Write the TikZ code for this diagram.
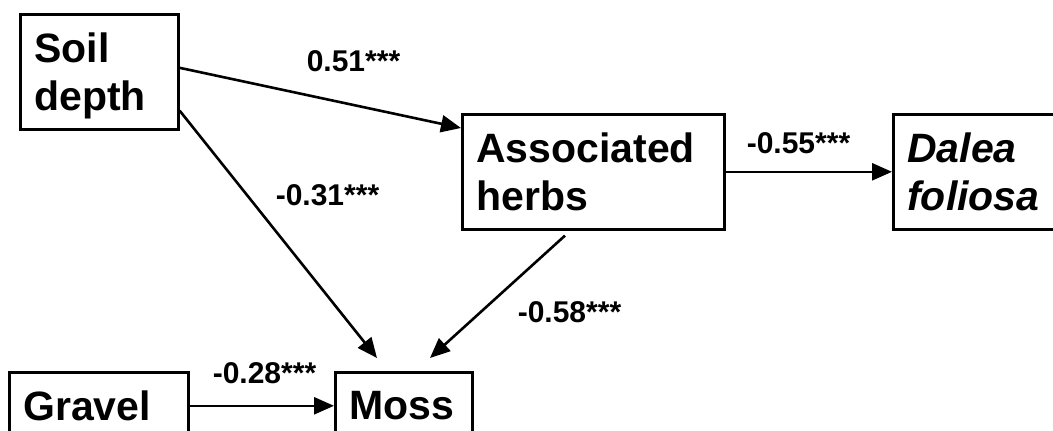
\documentclass[tikz,border=0pt]{standalone}
\usepackage{fontspec}
\setmainfont{Liberation Sans}
\usetikzlibrary{arrows.meta,positioning,calc}

\begin{document}
\begin{tikzpicture}[x=1pt,y=-1pt,>={Triangle[length=20pt,width=17pt]},line width=2.6pt,
  box/.style={draw,anchor=north west,inner xsep=14pt,inner ysep=0pt,align=left,
    font=\fontsize{41}{48}\selectfont\bfseries},
  lbl/.style={anchor=base,inner sep=0pt,font=\fontsize{30}{36}\selectfont\bfseries}]
\useasboundingbox (0,0) rectangle (1053,431);
\clip (0,0) rectangle (1053,431);
\node[box,text width=130pt,minimum height=115pt] (soil) at (19,13) {Soil\\\smash{depth}};
\node[box,text width=234pt,minimum height=115pt] (herbs) at (461,113) {Associated\\herbs};
\node[box,text width=152pt,minimum height=115pt] (dalea) at (892,113) {\itshape Dalea\\\itshape foliosa};
\node[box,text width=151pt,minimum height=67pt] (gravel) at (8,371) {Gravel};
\node[box,text width=109pt,minimum height=67pt] (moss) at (334,371) {Moss};
\draw[->] ($(soil.east)+(0,-4)$) -- ($(herbs.north west)+(0,15)$);
\draw[->] ($(soil.south east)+(0,-20)$) -- ($(moss.north west)+(43,-13)$);
\draw[->] ($(herbs.south west)+(104,5)$) -- ($(moss.north west)+(96,-13)$);
\draw[->] (herbs.east) -- (dalea.west);
\draw[->] (gravel.east) -- (moss.west);
\node[lbl] (l1) at (353.5,71) {0.51***};
\node[lbl] (l2) at (327.5,205) {-0.31***};
\node[lbl] (l3) at (798.5,153) {-0.55***};
\node[lbl] (l4) at (569.5,322) {-0.58***};
\node[lbl] (l5) at (264.5,383) {-0.28***};
\end{tikzpicture}
\end{document}
